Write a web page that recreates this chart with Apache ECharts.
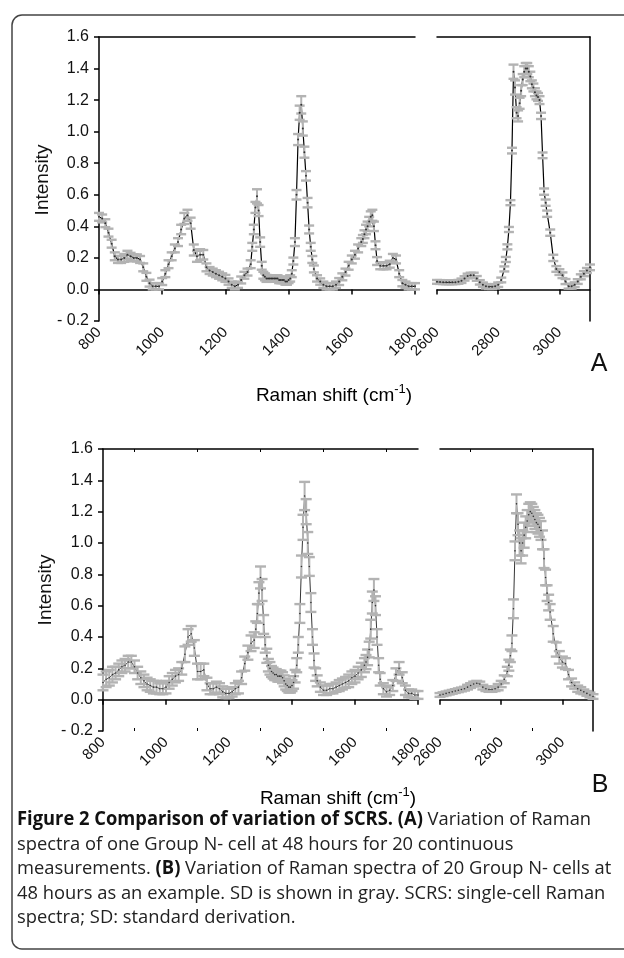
<!DOCTYPE html>
<html>
<head>
<meta charset="utf-8">
<title>Figure 2 SCRS variation</title>
<script src="https://cdn.jsdelivr.net/npm/echarts@6/dist/echarts.min.js"></script>
<style>
  html, body { margin: 0; padding: 0; background: #fff; }
  #chart { width: 624px; height: 958px; }
</style>
</head>
<body>
<div id="chart"></div>
<script>
// Raman shift sampling (cm-1), shared by both panels
const lowShift = [
  800, 810, 820, 830, 840, 850, 860, 870, 880, 890,
  900, 910, 920, 930, 940, 950, 960, 970, 980, 990,
  1000, 1010, 1020, 1030, 1040, 1050, 1060, 1070, 1080, 1090,
  1100, 1110, 1120, 1130, 1140, 1150, 1160, 1170, 1180, 1190,
  1200, 1210, 1220, 1230, 1240, 1250, 1260, 1270, 1280,
  1285, 1290, 1295, 1300, 1305, 1310, 1315, 1320, 1325, 1330,
  1335, 1340, 1345, 1350, 1355, 1360, 1365, 1370, 1375, 1380,
  1385, 1390, 1395, 1400, 1405, 1410, 1415, 1420, 1425, 1430,
  1435, 1440, 1445, 1450, 1455, 1460, 1465, 1470, 1475, 1480,
  1490, 1500, 1510, 1520, 1530, 1540, 1550, 1560, 1570, 1580,
  1590, 1600, 1610, 1620, 1630,
  1635, 1640, 1645, 1650, 1655, 1660, 1665, 1670, 1675, 1680,
  1690, 1700, 1710, 1720, 1730, 1740, 1750, 1760, 1770, 1780, 1790, 1800
]
const highShift = [
  2600, 2610, 2620, 2630, 2640, 2650, 2660, 2670, 2680, 2690,
  2700, 2710, 2720, 2730, 2740, 2750, 2760, 2770, 2780, 2790,
  2800, 2810, 2820,
  2825, 2830, 2835, 2840, 2845, 2850, 2855, 2860, 2865, 2870,
  2875, 2880, 2885, 2890, 2895, 2900, 2905, 2910, 2915, 2920,
  2925, 2930, 2935, 2940, 2945, 2950, 2955, 2960,
  2970, 2980, 2990, 3000, 3010, 3020, 3030, 3040, 3050, 3060, 3070, 3080, 3090, 3100
]

// (A) one cell, 20 continuous measurements: mean and SD
const meanA_low = [
  0.46, 0.45, 0.42, 0.36, 0.29, 0.21, 0.19, 0.19, 0.20, 0.22,
  0.21, 0.20, 0.20, 0.19, 0.14, 0.08, 0.04, 0.02, 0.02, 0.02,
  0.05, 0.10, 0.16, 0.21, 0.26, 0.30, 0.38, 0.45, 0.47, 0.42,
  0.25, 0.21, 0.22, 0.22, 0.14, 0.12, 0.11, 0.10, 0.09, 0.08,
  0.07, 0.05, 0.03, 0.02, 0.03, 0.06, 0.09, 0.11, 0.16,
  0.27, 0.38, 0.52, 0.59, 0.50, 0.30, 0.15, 0.09, 0.08, 0.07,
  0.07, 0.07, 0.07, 0.07, 0.07, 0.07, 0.07, 0.06, 0.06, 0.06,
  0.06, 0.05, 0.05, 0.06, 0.07, 0.10, 0.18, 0.30, 0.60, 0.95,
  1.12, 1.17, 1.02, 0.87, 0.72, 0.55, 0.38, 0.27, 0.19, 0.13,
  0.07, 0.05, 0.03, 0.02, 0.02, 0.02, 0.03, 0.05, 0.08, 0.11,
  0.15, 0.19, 0.22, 0.26, 0.30,
  0.32, 0.35, 0.38, 0.40, 0.43, 0.46, 0.47, 0.40, 0.28, 0.18,
  0.15, 0.15, 0.15, 0.16, 0.20, 0.19, 0.10, 0.04, 0.03, 0.02, 0.02, 0.02
]
const sdA_low = [
  0.025, 0.025, 0.025, 0.025, 0.025, 0.025, 0.022, 0.022, 0.025, 0.025,
  0.022, 0.022, 0.022, 0.022, 0.025, 0.025, 0.022, 0.02, 0.02, 0.02,
  0.022, 0.022, 0.025, 0.025, 0.025, 0.025, 0.03, 0.035, 0.035, 0.035,
  0.035, 0.035, 0.035, 0.03, 0.025, 0.022, 0.022, 0.022, 0.022, 0.022,
  0.022, 0.02, 0.02, 0.02, 0.02, 0.022, 0.022, 0.022, 0.025,
  0.025, 0.03, 0.035, 0.045, 0.035, 0.03, 0.025, 0.022, 0.022, 0.022,
  0.02, 0.02, 0.02, 0.02, 0.02, 0.02, 0.02, 0.02, 0.02, 0.02,
  0.02, 0.02, 0.02, 0.02, 0.02, 0.022, 0.022, 0.025, 0.03, 0.035,
  0.045, 0.055, 0.045, 0.035, 0.03, 0.03, 0.025, 0.025, 0.022, 0.022,
  0.02, 0.02, 0.02, 0.02, 0.02, 0.02, 0.02, 0.022, 0.022, 0.022,
  0.025, 0.025, 0.025, 0.025, 0.025,
  0.025, 0.025, 0.03, 0.03, 0.03, 0.035, 0.035, 0.03, 0.025, 0.025,
  0.022, 0.022, 0.022, 0.022, 0.025, 0.025, 0.022, 0.02, 0.02, 0.02, 0.02, 0.02
]
const meanA_high = [
  0.048, 0.047, 0.046, 0.045, 0.045, 0.045, 0.046, 0.048, 0.055, 0.07,
  0.085, 0.09, 0.09, 0.07, 0.045, 0.03, 0.02, 0.017, 0.017, 0.02,
  0.03, 0.06, 0.13,
  0.19, 0.27, 0.38, 0.55, 0.88, 1.38, 1.28, 1.12, 1.10, 1.18,
  1.26, 1.33, 1.38, 1.40, 1.40, 1.38, 1.35, 1.30, 1.28, 1.25,
  1.23, 1.22, 1.20, 1.10, 0.85, 0.62, 0.55, 0.48,
  0.36, 0.20, 0.13, 0.11, 0.09, 0.05, 0.02, 0.02, 0.03, 0.05, 0.08, 0.10, 0.12, 0.14
]
const sdA_high = [
  0.012, 0.012, 0.012, 0.012, 0.012, 0.012, 0.012, 0.012, 0.014, 0.014,
  0.015, 0.016, 0.016, 0.015, 0.014, 0.014, 0.014, 0.014, 0.014, 0.014,
  0.014, 0.015, 0.016,
  0.016, 0.016, 0.016, 0.016, 0.018, 0.045, 0.045, 0.035, 0.035, 0.035,
  0.035, 0.035, 0.035, 0.035, 0.035, 0.035, 0.03, 0.025, 0.025, 0.025,
  0.025, 0.025, 0.025, 0.02, 0.018, 0.02, 0.02, 0.02,
  0.02, 0.02, 0.018, 0.018, 0.018, 0.016, 0.015, 0.015, 0.015, 0.015, 0.016, 0.016, 0.016, 0.018
]

// (B) 20 cells: mean and SD
const meanB_low = [
  0.11, 0.13, 0.14, 0.16, 0.17, 0.19, 0.21, 0.22, 0.24, 0.24,
  0.21, 0.17, 0.14, 0.12, 0.10, 0.09, 0.08, 0.08, 0.07, 0.07,
  0.08, 0.11, 0.13, 0.15, 0.16, 0.20, 0.29, 0.40, 0.42, 0.33,
  0.18, 0.18, 0.19, 0.10, 0.07, 0.07, 0.08, 0.07, 0.05, 0.04,
  0.04, 0.05, 0.07, 0.08, 0.14, 0.23, 0.30, 0.36, 0.38,
  0.45, 0.55, 0.68, 0.78, 0.70, 0.48, 0.35, 0.28, 0.22, 0.20,
  0.18, 0.17, 0.16, 0.16, 0.15, 0.15, 0.15, 0.14, 0.12, 0.10,
  0.09, 0.08, 0.08, 0.09, 0.11, 0.15, 0.22, 0.35, 0.55, 0.85,
  1.10, 1.30, 1.20, 1.00, 0.85, 0.62, 0.40, 0.25, 0.16, 0.12,
  0.08, 0.06, 0.06, 0.07, 0.07, 0.08, 0.09, 0.10, 0.11, 0.12,
  0.14, 0.15, 0.17, 0.19, 0.22,
  0.24, 0.27, 0.32, 0.45, 0.62, 0.70, 0.60, 0.40, 0.22, 0.13,
  0.07, 0.05, 0.06, 0.09, 0.16, 0.20, 0.14, 0.06, 0.04, 0.04, 0.03, 0.03
]
const sdB_low = [
  0.05, 0.05, 0.05, 0.05, 0.04, 0.04, 0.04, 0.04, 0.04, 0.04,
  0.04, 0.04, 0.04, 0.04, 0.04, 0.04, 0.04, 0.04, 0.035, 0.035,
  0.04, 0.04, 0.04, 0.04, 0.04, 0.04, 0.05, 0.05, 0.05, 0.05,
  0.05, 0.05, 0.04, 0.04, 0.035, 0.035, 0.035, 0.035, 0.035, 0.03,
  0.03, 0.03, 0.035, 0.04, 0.04, 0.045, 0.045, 0.05, 0.05,
  0.05, 0.06, 0.07, 0.07, 0.07, 0.06, 0.05, 0.045, 0.04, 0.04,
  0.035, 0.035, 0.035, 0.035, 0.035, 0.035, 0.035, 0.035, 0.035, 0.035,
  0.035, 0.035, 0.035, 0.035, 0.04, 0.04, 0.045, 0.05, 0.06, 0.07,
  0.08, 0.09, 0.08, 0.07, 0.06, 0.06, 0.05, 0.045, 0.04, 0.035,
  0.03, 0.03, 0.03, 0.03, 0.03, 0.03, 0.035, 0.035, 0.035, 0.04,
  0.04, 0.04, 0.04, 0.045, 0.045,
  0.045, 0.05, 0.05, 0.06, 0.07, 0.07, 0.06, 0.05, 0.045, 0.04,
  0.035, 0.03, 0.03, 0.035, 0.04, 0.04, 0.035, 0.03, 0.025, 0.025, 0.025, 0.025
]
const meanB_high = [
  0.03, 0.035, 0.04, 0.045, 0.05, 0.055, 0.06, 0.065, 0.07, 0.08,
  0.09, 0.10, 0.105, 0.10, 0.08, 0.07, 0.065, 0.065, 0.07, 0.08,
  0.10, 0.13, 0.18,
  0.22, 0.28, 0.36, 0.58, 0.95, 1.25, 1.12, 1.00, 0.95, 1.00,
  1.05, 1.10, 1.14, 1.18, 1.20, 1.19, 1.17, 1.15, 1.13, 1.12,
  1.10, 1.08, 1.02, 0.90, 0.78, 0.68, 0.62, 0.56,
  0.42, 0.32, 0.27, 0.24, 0.23, 0.16, 0.11, 0.09, 0.07, 0.06, 0.05, 0.04, 0.03, 0.02
]
const sdB_high = [
  0.012, 0.012, 0.012, 0.012, 0.012, 0.012, 0.012, 0.012, 0.012, 0.015,
  0.015, 0.015, 0.015, 0.015, 0.015, 0.015, 0.015, 0.015, 0.015, 0.02,
  0.02, 0.025, 0.03,
  0.035, 0.04, 0.05, 0.06, 0.06, 0.06, 0.07, 0.08, 0.08, 0.08,
  0.08, 0.07, 0.07, 0.07, 0.06, 0.06, 0.06, 0.06, 0.06, 0.06,
  0.06, 0.06, 0.06, 0.06, 0.05, 0.05, 0.05, 0.05,
  0.05, 0.045, 0.04, 0.035, 0.035, 0.03, 0.025, 0.02, 0.02, 0.02, 0.015, 0.015, 0.015, 0.015
]

// tick labels
const lowTicks = [800, 1000, 1200, 1400, 1600, 1800]
const highTicks = [2600, 2800, 3000]
const lowMinor = [900, 1100, 1300, 1500, 1700]
const highMinor = [2700, 2900]

const captionLines = [
  '{b|Figure 2 Comparison of variation of SCRS. (A)} Variation of Raman',
  'spectra of one Group N- cell at 48 hours for 20 continuous',
  'measurements. {b|(B)} Variation of Raman spectra of 20 Group N- cells at',
  '48 hours as an example. SD is shown in gray. SCRS: single-cell Raman',
  'spectra; SD: standard derivation.'
]

const FONT = 'Liberation Sans, Arial, sans-serif'
const BAR = '#b3b3b3'

const chart = echarts.init(document.getElementById('chart'), null, { renderer: 'canvas' })

// grids: A-low, A-high, B-low, B-high
const grids = [
  { left: 99, top: 37, width: 316, height: 284 },
  { left: 437, top: 37, width: 153, height: 284 },
  { left: 103, top: 449, width: 315, height: 282 },
  { left: 440, top: 449, width: 153, height: 282 }
]
const ranges = [[800, 1800], [2600, 3100], [800, 1800], [2600, 3100]]
const capHalf = [5, 5, 5.5, 5.5]

function errorBar(params, api) {
  const x = api.value(0)
  const m = api.value(1)
  const sd = api.value(2)
  const hi = api.coord([x, m + sd])
  const lo = api.coord([x, m - sd])
  // three series per segment: line, bars, dots
  const w = capHalf[Math.floor(params.seriesIndex / 3)]
  const stem = { stroke: BAR, lineWidth: 2 }
  const cap = { stroke: BAR, lineWidth: 2.4 }
  return {
    type: 'group',
    children: [
      { type: 'line', shape: { x1: hi[0], y1: hi[1], x2: lo[0], y2: lo[1] }, style: stem },
      { type: 'line', shape: { x1: hi[0] - w, y1: hi[1], x2: hi[0] + w, y2: hi[1] }, style: cap },
      { type: 'line', shape: { x1: lo[0] - w, y1: lo[1], x2: lo[0] + w, y2: lo[1] }, style: cap }
    ]
  }
}

function segment(g, shift, mean, sd, lw, dot) {
  const pts = shift.map((s, i) => [s, mean[i]])
  const bars = shift.map((s, i) => [s, mean[i], sd[i]])
  return [
    { type: 'line', xAxisIndex: g, yAxisIndex: g, data: pts, symbol: 'none',
      lineStyle: { color: '#000', width: lw }, z: 2, silent: true },
    { type: 'custom', xAxisIndex: g, yAxisIndex: g, data: bars, renderItem: errorBar,
      encode: { x: 0, y: 1 }, z: 3, silent: true },
    { type: 'scatter', xAxisIndex: g, yAxisIndex: g, data: pts, symbolSize: dot,
      itemStyle: { color: '#111' }, z: 4, silent: true }
  ]
}

const axisLineStyle = { color: '#000', width: 1.5 }
const xAxes = []
const yAxes = []
grids.forEach((gr, g) => {
  const isLow = g % 2 === 0
  const [mn, mx] = ranges[g]
  const ticks = isLow ? lowTicks : highTicks
  // main bottom axis
  xAxes.push({
    type: 'value', gridIndex: g, position: 'bottom', min: mn, max: mx, interval: 200,
    axisLine: { show: true, lineStyle: axisLineStyle },
    axisTick: { show: true, length: 5, customValues: ticks, lineStyle: axisLineStyle },
    axisLabel: {
      customValues: ticks, rotate: 45, margin: 9, fontSize: 15, color: '#111', fontFamily: FONT,
      formatter: v => String(v)
    },
    splitLine: { show: false }
  })
})
grids.forEach((gr, g) => {
  const isLow = g % 2 === 0
  const isB = g >= 2
  const [mn, mx] = ranges[g]
  const minor = isLow ? lowMinor : highMinor
  // top frame line
  xAxes.push({
    type: 'value', gridIndex: g, position: 'top', min: mn, max: mx,
    axisLine: { show: true, lineStyle: axisLineStyle },
    axisTick: { show: isB, inside: true, length: 3, customValues: minor, lineStyle: { color: '#000', width: 1 } },
    axisLabel: { show: false },
    splitLine: { show: false }
  })
  if (isB) {
    // minor ticks pointing inward on the bottom axis
    xAxes.push({
      type: 'value', gridIndex: g, position: 'bottom', min: mn, max: mx,
      axisLine: { show: false },
      axisTick: { show: true, inside: true, length: 3, customValues: minor, lineStyle: { color: '#000', width: 1 } },
      axisLabel: { show: false },
      splitLine: { show: false }
    })
  }
})
grids.forEach((gr, g) => {
  const isLow = g % 2 === 0
  yAxes.push({
    type: 'value', gridIndex: g, position: isLow ? 'left' : 'right',
    min: -0.2, max: 1.6, interval: 0.2,
    axisLine: { show: true, lineStyle: axisLineStyle },
    axisTick: { show: isLow, length: 5, lineStyle: axisLineStyle },
    axisLabel: {
      show: isLow, margin: 10, fontSize: 16, color: '#111', fontFamily: FONT,
      formatter: v => (v < 0 ? '- ' + Math.abs(v).toFixed(1) : v.toFixed(1))
    },
    splitLine: { show: false }
  })
})

const series = [].concat(
  segment(0, lowShift, meanA_low, sdA_low, 1.2, 2),
  segment(1, highShift, meanA_high, sdA_high, 1.2, 2),
  segment(2, lowShift, meanB_low, sdB_low, 0.8, 1.6),
  segment(3, highShift, meanB_high, sdB_high, 0.8, 1.6)
)

const titleRich = {
  t: { fontSize: 19, fontFamily: FONT, color: '#111', lineHeight: 22, verticalAlign: 'bottom' },
  s: { fontSize: 13, fontFamily: FONT, color: '#111', lineHeight: 13, verticalAlign: 'top' }
}
const xTitle = '{t|Raman shift (cm}{s|-1}{t|)}'

function label(x, y, text, size, rot) {
  return {
    type: 'text', x, y, rotation: rot || 0, silent: true,
    style: { text, fontSize: size, fontFamily: FONT, fill: '#111', align: 'center', verticalAlign: 'middle' }
  }
}

const graphics = [
  { type: 'rect', silent: true, shape: { x: 12, y: 15, width: 660, height: 934, r: 10 },
    style: { fill: 'none', stroke: '#444', lineWidth: 1.5 } },
  label(43, 180, 'Intensity', 19, Math.PI / 2),
  label(46, 590, 'Intensity', 19, Math.PI / 2),
  { type: 'text', x: 334, y: 394, silent: true,
    style: { text: xTitle, rich: titleRich, align: 'center', verticalAlign: 'middle' } },
  { type: 'text', x: 338, y: 797, silent: true,
    style: { text: xTitle, rich: titleRich, align: 'center', verticalAlign: 'middle' } },
  label(599, 364, 'A', 25),
  label(600, 785, 'B', 25)
]
captionLines.forEach((line, i) => {
  graphics.push({
    type: 'text', x: 17, y: 820 + i * 24.5, scaleX: 0.965, silent: true,
    style: {
      text: line, fontSize: 19, fontFamily: 'Open Sans', fill: '#222',
      align: 'left', verticalAlign: 'middle',
      rich: { b: { fontSize: 19, fontFamily: 'Open Sans', fontWeight: 'bold', fill: '#111' } }
    }
  })
})

chart.setOption({
  animation: false,
  grid: grids,
  xAxis: xAxes,
  yAxis: yAxes,
  series,
  graphic: graphics
})
</script>
</body>
</html>
